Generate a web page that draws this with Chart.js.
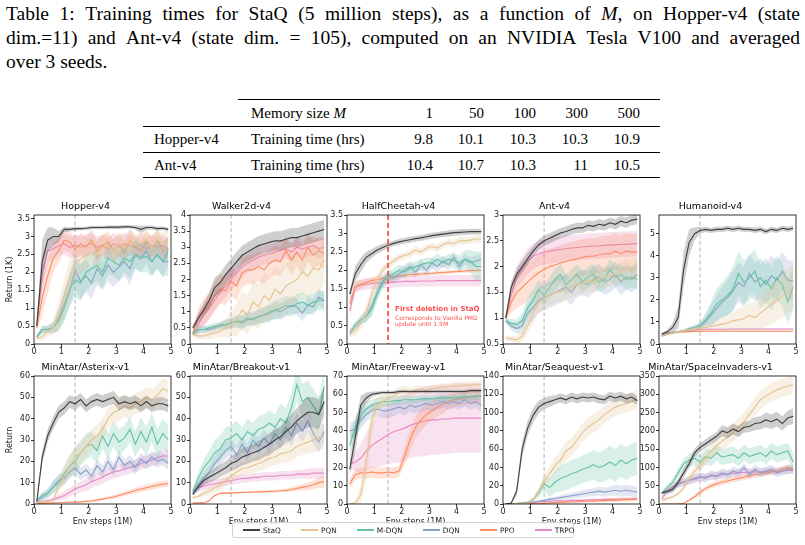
<!DOCTYPE html>
<html>
<head>
<meta charset="utf-8">
<script src="https://cdn.jsdelivr.net/npm/chart.js@4.4.1/dist/chart.umd.min.js"></script>
<style>
  body { margin: 0; width: 805px; height: 545px; background: #fff; position: relative; overflow: hidden;
         font-family: 'Liberation Serif', serif; color: #000; }
  .cap { position: absolute; left: 6px; width: 794px; font-size: 19.5px; line-height: 24px; white-space: nowrap; }
  .cap.just { display: flex; justify-content: space-between; }
  .rule { position: absolute; background: #000; }
  .cell { position: absolute; font-size: 15px; line-height: 18px; white-space: nowrap; }
  .num { text-align: right; width: 60px; }
  canvas { position: absolute; }
  #legend { position: absolute; left: 232px; top: 522px; width: 342px; height: 16px; box-sizing: border-box;
            border: 1px solid #d4d4d4; border-radius: 2px; background: rgba(255,255,255,0.85);
            display: flex; align-items: center; padding-left: 10px; gap: 20px; white-space: nowrap;
            font: 7.4px 'DejaVu Sans'; color: #222; z-index: 5; }
  .item { display: flex; align-items: center; flex: none; }
  .swatch { width: 17px; height: 1.2px; margin-right: 3px; flex: none; }
</style>
</head>
<body>
<div id="caption"></div>
<div id="table"></div>
<div id="grid"></div>
<div id="legend"></div>
<script>
// ---- table data ----
const memSizes = [1, 50, 100, 300, 500];
const hopperTimes = [9.8, 10.1, 10.3, 10.3, 10.9];
const antTimes = [10.4, 10.7, 10.3, 11, 10.5];

// ---- curves: mean and std, sampled at xSteps (millions of env steps) ----
const xSteps = [0.1,0.3,0.5,0.7,0.9,1.1,1.3,1.5,1.7,1.9,2.1,2.3,2.5,2.7,2.9,3.1,3.3,3.5,3.7,3.9,4.1,4.3,4.5,4.7,4.9];
const methods = ['StaQ', 'PQN', 'M-DQN', 'DQN', 'PPO', 'TRPO'];
const methodColors = ['#404040', '#e5c494', '#66c2a5', '#8da0cb', '#fc8d62', '#e78ac3'];
const deletionStep = 1.5;

const hopperStaq = [0.5,2.3,2.9,3.0,3.0, 3.2,3.2,3.22,3.22,3.23, 3.25,3.25,3.25,3.26,3.26, 3.26,3.27,3.27,3.25,3.2, 3.25,3.25,3.22,3.23,3.2];
const hopperStaqSd = [0.1,0.6,0.35,0.25,0.15, 0.08,0.06,0.05,0.05,0.05, 0.05,0.05,0.05,0.05,0.05, 0.05,0.05,0.05,0.06,0.1, 0.06,0.06,0.05,0.05,0.05];
const hopperPqn = [0.15,0.2,0.35,0.45,0.8, 1.3,1.8,2.3,2.35,2.5, 2.6,2.5,2.7,2.75,2.6, 2.8,2.7,2.9,2.75,2.8, 2.9,2.7,2.9,2.8,2.95];
const hopperPqnSd = [0.05,0.1,0.15,0.2,0.4, 0.5,0.5,0.45,0.4,0.4, 0.35,0.35,0.35,0.3,0.35, 0.3,0.35,0.3,0.3,0.3, 0.3,0.3,0.3,0.3,0.3];
const hopperMdqn = [0.2,0.4,0.4,0.45,0.65, 1.0,1.5,1.8,1.7,2.0, 2.1,2.2,2.0,2.4,2.3, 2.2,2.4,2.3,2.5,2.4, 2.45,2.3,2.5,2.3,2.6];
const hopperMdqnSd = [0.05,0.1,0.1,0.15,0.3, 0.4,0.45,0.5,0.5,0.5, 0.45,0.45,0.45,0.45,0.4, 0.45,0.4,0.45,0.4,0.4, 0.45,0.4,0.4,0.45,0.4];
const hopperDqn = [0.2,0.4,0.42,0.45,0.7, 1.1,1.5,2.05,1.75,1.9, 1.7,2.1,1.9,2.2,2.0, 2.15,2.3,2.1,2.5,2.4, 2.6,2.3,2.5,2.3,2.3];
const hopperDqnSd = [0.05,0.1,0.1,0.15,0.3, 0.4,0.45,0.5,0.5,0.45, 0.45,0.45,0.4,0.45,0.4, 0.4,0.4,0.45,0.4,0.4, 0.35,0.4,0.4,0.4,0.4];
const hopperPpo = [0.45,1.3,1.9,2.4,2.6, 2.9,2.85,2.65,2.8,2.7, 2.9,2.6,2.75,2.85,2.6, 2.8,2.55,2.9,2.7,2.6, 2.85,2.7,2.9,2.6,2.65];
const hopperPpoSd = [0.1,0.5,0.5,0.4,0.35, 0.3,0.3,0.3,0.3,0.3, 0.3,0.3,0.3,0.3,0.3, 0.3,0.3,0.3,0.3,0.3, 0.3,0.3,0.3,0.3,0.3];
const hopperTrpo = [0.5,2.0,2.6,2.65,2.75, 2.8,2.7,2.75,2.7,2.75, 2.8,2.7,2.75,2.65,2.8, 2.7,2.8,2.75,2.7,2.8, 2.65,2.75,2.7,2.75,2.65];
const hopperTrpoSd = [0.1,0.5,0.35,0.3,0.3, 0.3,0.3,0.3,0.3,0.3, 0.3,0.3,0.3,0.3,0.3, 0.3,0.3,0.3,0.3,0.3, 0.3,0.3,0.3,0.3,0.3];

const walkerStaq = [0.5,0.8,1.05,1.35,1.75, 1.9,2.15,2.35,2.55,2.75, 2.85,2.95,3.05,3.1,3.15, 3.2,3.2,3.25,3.3,3.3, 3.35,3.4,3.45,3.5,3.55];
const walkerStaqSd = [0.05,0.15,0.2,0.25,0.3, 0.3,0.3,0.3,0.3,0.3, 0.3,0.3,0.3,0.3,0.3, 0.3,0.3,0.3,0.3,0.3, 0.3,0.3,0.3,0.3,0.3];
const walkerPqn = [0.3,0.25,0.25,0.3,0.35, 0.4,0.5,0.6,0.75,1.05, 0.9,1.3,1.15,1.5,1.35, 1.7,1.55,1.8,1.9,2.0, 2.25,2.1,2.35,2.3,2.6];
const walkerPqnSd = [0.05,0.1,0.1,0.15,0.15, 0.2,0.3,0.4,0.5,0.6, 0.6,0.7,0.7,0.7,0.7, 0.7,0.7,0.7,0.7,0.7, 0.7,0.7,0.7,0.7,0.7];
const walkerMdqn = [0.3,0.45,0.45,0.5,0.55, 0.55,0.6,0.65,0.7,0.7, 0.8,0.75,0.85,0.9,1.0, 1.05,1.1,1.2,1.15,1.25, 1.3,1.2,1.3,1.35,1.35];
const walkerMdqnSd = [0.05,0.1,0.1,0.1,0.1, 0.1,0.15,0.15,0.2,0.2, 0.2,0.2,0.25,0.25,0.25, 0.3,0.3,0.3,0.3,0.3, 0.3,0.3,0.3,0.3,0.3];
const walkerDqn = [0.3,0.45,0.45,0.45,0.5, 0.6,0.6,0.65,0.7,0.65, 0.75,0.8,0.85,0.9,0.95, 1.05,1.0,1.1,1.2,1.15, 0.95,1.2,1.15,1.45,1.35];
const walkerDqnSd = [0.05,0.1,0.1,0.1,0.1, 0.1,0.15,0.15,0.15,0.2, 0.2,0.2,0.2,0.25,0.25, 0.25,0.25,0.25,0.25,0.25, 0.25,0.25,0.25,0.25,0.25];
const walkerPpo = [0.35,0.8,1.0,1.2,1.5, 1.7,1.65,1.95,1.8,2.2, 2.3,2.3,2.4,2.3,2.5, 2.6,2.55,2.9,2.6,2.85, 2.6,3.0,2.75,2.9,2.8];
const walkerPpoSd = [0.1,0.3,0.4,0.4,0.45, 0.45,0.45,0.45,0.45,0.45, 0.45,0.45,0.45,0.45,0.45, 0.45,0.45,0.45,0.45,0.45, 0.45,0.45,0.45,0.45,0.45];
const walkerTrpo = [0.3,0.6,0.9,1.1,1.35, 1.6,1.8,2.0,2.2,2.4, 2.5,2.6,2.7,2.75,2.8, 2.85,2.9,2.95,2.85,3.0, 2.95,3.0,3.05,2.95,3.0];
const walkerTrpoSd = [0.1,0.3,0.35,0.35,0.35, 0.35,0.35,0.35,0.35,0.35, 0.3,0.3,0.3,0.3,0.3, 0.3,0.3,0.3,0.3,0.3, 0.3,0.3,0.3,0.3,0.3];

const cheetahStaq = [1.35,1.9,2.15,2.35,2.45, 2.55,2.62,2.68,2.73,2.77, 2.8,2.83,2.86,2.88,2.91, 2.94,2.96,2.98,3.0,3.02, 3.03,3.04,3.05,3.05,3.05];
const cheetahStaqSd = [0.1,0.2,0.2,0.15,0.12, 0.1,0.1,0.08,0.08,0.08, 0.08,0.08,0.08,0.08,0.08, 0.08,0.08,0.08,0.08,0.08, 0.08,0.08,0.08,0.08,0.08];
const cheetahPqn = [0.3,0.35,0.55,0.85,1.35, 1.75,2.0,2.15,2.25,2.35, 2.4,2.45,2.55,2.5,2.6, 2.65,2.6,2.7,2.75,2.72, 2.8,2.8,2.82,2.85,2.85];
const cheetahPqnSd = [0.1,0.15,0.15,0.2,0.2, 0.15,0.12,0.1,0.1,0.1, 0.1,0.1,0.1,0.1,0.1, 0.1,0.1,0.1,0.1,0.1, 0.1,0.1,0.1,0.1,0.1];
const cheetahMdqn = [0.3,0.5,0.65,0.75,0.95, 1.35,1.65,1.85,1.9,2.0, 1.95,2.05,2.1,2.15,2.2, 2.2,2.3,2.2,2.3,2.25, 2.2,2.3,2.25,2.1,2.1];
const cheetahMdqnSd = [0.1,0.1,0.1,0.15,0.2, 0.2,0.15,0.15,0.15,0.15, 0.15,0.15,0.15,0.15,0.15, 0.15,0.15,0.15,0.15,0.2, 0.2,0.25,0.3,0.4,0.4];
const cheetahDqn = [0.3,0.5,0.65,0.75,1.0, 1.4,1.7,1.85,1.8,1.9, 2.0,2.1,1.95,2.15,2.0, 2.2,2.1,2.25,2.15,2.35, 2.1,2.3,2.2,2.25,2.3];
const cheetahDqnSd = [0.1,0.1,0.1,0.15,0.2, 0.2,0.15,0.15,0.15,0.15, 0.15,0.15,0.15,0.15,0.15, 0.15,0.15,0.15,0.15,0.15, 0.15,0.15,0.15,0.15,0.15];
const cheetahPpo = [1.1,1.55,1.62,1.67,1.72, 1.75,1.78,1.8,1.82,1.84, 1.86,1.88,1.89,1.9,1.91, 1.92,1.93,1.94,1.95,1.96, 1.97,1.98,1.99,2.0,2.0];
const cheetahPpoSd = [0.15,0.15,0.12,0.1,0.1, 0.1,0.08,0.08,0.08,0.06, 0.06,0.06,0.06,0.05,0.05, 0.05,0.05,0.05,0.05,0.05, 0.05,0.05,0.05,0.05,0.05];
const cheetahTrpo = [0.9,1.55,1.6,1.62,1.64, 1.65,1.66,1.67,1.68,1.69, 1.7,1.7,1.7,1.71,1.71, 1.71,1.72,1.72,1.72,1.72, 1.72,1.72,1.72,1.72,1.72];
const cheetahTrpoSd = [0.2,0.15,0.15,0.15,0.15, 0.15,0.15,0.15,0.15,0.15, 0.15,0.15,0.15,0.15,0.15, 0.15,0.15,0.15,0.15,0.15, 0.15,0.15,0.15,0.15,0.15];

const antStaq = [1.0,1.6,1.85,2.0,2.15, 2.3,2.42,2.5,2.55,2.6, 2.65,2.68,2.72,2.75,2.75, 2.8,2.78,2.82,2.8,2.85, 2.82,2.88,2.85,2.9,2.92];
const antStaqSd = [0.03,0.12,0.12,0.12,0.12, 0.1,0.1,0.1,0.1,0.1, 0.1,0.1,0.1,0.1,0.1, 0.1,0.1,0.1,0.1,0.1, 0.1,0.1,0.1,0.1,0.1];
const antPqn = [0.62,0.6,0.58,0.65,0.85, 1.1,1.3,1.38,1.45,1.5, 1.52,1.55,1.6,1.65,1.68, 1.72,1.7,1.78,1.8,1.82, 1.85,1.9,1.95,1.9,2.0];
const antPqnSd = [0.05,0.05,0.08,0.1,0.15, 0.2,0.2,0.2,0.2,0.2, 0.2,0.2,0.2,0.2,0.2, 0.2,0.2,0.2,0.2,0.2, 0.2,0.2,0.2,0.2,0.2];
const antMdqn = [0.95,0.9,0.88,0.95,1.2, 1.35,1.55,1.45,1.6,1.75, 1.85,1.65,1.75,1.85,1.7, 1.8,1.85,1.7,1.75,1.95, 1.8,1.85,1.75,1.8,1.75];
const antMdqnSd = [0.05,0.08,0.1,0.15,0.2, 0.2,0.2,0.2,0.2,0.2, 0.2,0.2,0.2,0.2,0.2, 0.2,0.2,0.2,0.2,0.2, 0.2,0.2,0.2,0.2,0.2];
const antDqn = [0.95,0.85,0.8,0.85,1.1, 1.2,1.35,1.4,1.45,1.5, 1.55,1.6,1.5,1.65,1.7, 1.65,1.75,1.8,1.7,1.75, 1.85,1.7,1.8,1.75,1.85];
const antDqnSd = [0.05,0.08,0.1,0.15,0.2, 0.25,0.25,0.25,0.25,0.25, 0.25,0.25,0.25,0.25,0.25, 0.25,0.25,0.25,0.25,0.25, 0.25,0.25,0.25,0.25,0.25];
const antPpo = [1.0,1.3,1.5,1.6,1.7, 1.8,1.88,1.95,2.0,2.03, 2.07,2.1,2.13,2.15,2.18, 2.2,2.2,2.23,2.25,2.25, 2.3,2.25,2.3,2.28,2.28];
const antPpoSd = [0.05,0.2,0.3,0.35,0.35, 0.35,0.35,0.35,0.35,0.35, 0.35,0.35,0.35,0.35,0.35, 0.35,0.35,0.35,0.35,0.35, 0.35,0.35,0.35,0.35,0.35];
const antTrpo = [1.0,1.45,1.8,1.95,2.1, 2.2,2.25,2.28,2.3,2.32, 2.33,2.35,2.36,2.37,2.38, 2.39,2.4,2.4,2.41,2.42, 2.42,2.43,2.43,2.44,2.45];
const antTrpoSd = [0.05,0.15,0.2,0.25,0.25, 0.25,0.25,0.25,0.25,0.25, 0.25,0.25,0.25,0.25,0.25, 0.25,0.25,0.25,0.25,0.25, 0.25,0.25,0.25,0.25,0.25];

const humanoidStaq = [0.45,0.55,0.75,1.2,3.4, 4.6,5.0,5.15,5.2,5.15, 5.2,5.2,5.25,5.2,5.25, 5.2,5.2,5.15,5.2,5.1, 5.2,5.15,5.25,5.2,5.25];
const humanoidStaqSd = [0.05,0.1,0.2,0.5,0.8, 0.6,0.3,0.15,0.12,0.12, 0.12,0.12,0.12,0.12,0.12, 0.12,0.12,0.12,0.12,0.12, 0.12,0.12,0.12,0.12,0.12];
const humanoidPqn = [0.4,0.45,0.5,0.55,0.6, 0.65,0.7,0.72,0.75,0.8, 0.85,0.9,0.95,1.05,1.1, 1.15,1.3,1.2,1.4,1.6, 1.8,1.95,2.2,2.4,2.6];
const humanoidPqnSd = [0.05,0.05,0.05,0.05,0.05, 0.05,0.1,0.1,0.15,0.2, 0.25,0.3,0.35,0.4,0.5, 0.55,0.6,0.65,0.7,0.8, 0.9,0.9,1.0,1.0,1.0];
const humanoidMdqn = [0.4,0.45,0.5,0.55,0.6, 0.7,0.75,0.85,1.1,1.4, 1.8,2.0,2.2,2.5,3.2, 2.8,3.0,3.3,2.6,2.9, 2.5,3.0,2.7,1.9,2.6];
const humanoidMdqnSd = [0.05,0.05,0.05,0.05,0.05, 0.1,0.1,0.15,0.3,0.5, 0.7,0.8,0.9,1.0,1.0, 1.0,1.0,1.0,1.0,1.0, 1.0,1.0,1.0,1.0,1.0];
const humanoidDqn = [0.35,0.45,0.5,0.55,0.6, 0.65,0.75,0.8,1.0,1.3, 1.6,1.9,2.1,2.4,2.8, 2.6,3.2,2.8,3.0,2.7, 3.1,2.9,3.3,2.9,2.85];
const humanoidDqnSd = [0.05,0.05,0.05,0.05,0.05, 0.1,0.1,0.15,0.3,0.5, 0.6,0.7,0.8,0.9,0.9, 0.9,0.9,0.9,0.9,0.9, 0.9,0.9,0.9,0.9,0.9];
const humanoidPpo = [0.45,0.5,0.52,0.54,0.55, 0.56,0.57,0.57,0.58,0.58, 0.58,0.58,0.58,0.58,0.58, 0.58,0.58,0.58,0.58,0.58, 0.58,0.58,0.58,0.58,0.58];
const humanoidPpoSd = [0.03,0.03,0.03,0.03,0.03, 0.03,0.03,0.03,0.03,0.03, 0.03,0.03,0.03,0.03,0.03, 0.03,0.03,0.03,0.03,0.03, 0.03,0.03,0.03,0.03,0.03];
const humanoidTrpo = [0.45,0.5,0.53,0.56,0.6, 0.62,0.64,0.65,0.66,0.66, 0.67,0.67,0.67,0.68,0.68, 0.68,0.68,0.68,0.68,0.68, 0.68,0.68,0.68,0.68,0.68];
const humanoidTrpoSd = [0.03,0.03,0.03,0.03,0.03, 0.03,0.03,0.03,0.03,0.03, 0.03,0.03,0.03,0.03,0.03, 0.03,0.03,0.03,0.03,0.03, 0.03,0.03,0.03,0.03,0.03];

const asterixStaq = [1,22,32,38,43, 45,48,47,49,46, 48,49,48,49,50, 47,48,47,48,46, 48,46,47,47,46];
const asterixStaqSd = [0.5,3,3,3,3, 3,3,3,3,3, 3,3,3,3,3, 3,3,3,3,3, 3,3,3,3,3];
const asterixPqn = [1,1,1,2,8, 13,18,22,24,27, 30,32,35,40,43, 44,46,45,47,48, 50,49,51,54,53];
const asterixPqnSd = [0.5,0.5,0.5,1,3, 4,5,5,5,5, 5,5,5,5,5, 5,5,5,5,5, 5,5,5,5,5];
const asterixMdqn = [2,4,5,8,10, 14,18,20,24,27, 28,25,32,27,33, 29,31,35,28,34, 29,36,28,33,30];
const asterixMdqnSd = [1,1.5,2,3,3, 4,5,6,6,6, 6,6,6,6,6, 6,6,6,6,7, 7,7,7,7,7];
const asterixDqn = [1,3,5,8,11, 12,15,17,14,16, 13,18,15,20,16, 22,18,20,17,21, 19,22,20,21,19];
const asterixDqnSd = [1,2,2,3,3, 3,3,3,3,3, 3,3,3,3,3, 3,3,3,3,3, 3,3,3,3,3];
const asterixPpo = [0.2,0.3,0.4,0.5,0.6, 0.7,0.8,0.9,1,1.2, 1.4,1.8,2.3,2.8,3.3, 4,4.8,5.5,6.3,7, 7.6,8.2,8.8,9.3,9.5];
const asterixPpoSd = [0.2,0.2,0.2,0.3,0.3, 0.3,0.3,0.4,0.4,0.5, 0.5,0.6,0.7,0.8,0.9, 1,1,1.2,1.3,1.4, 1.5,1.5,1.5,1.5,1.5];
const asterixTrpo = [0.5,1,1.5,2,3, 4,5.5,7,8,9, 10.5,11.5,12.5,14,15, 15.5,16.5,17,18,19, 20,20.5,21.5,22.5,22.5];
const asterixTrpoSd = [0.5,1,1,1,1.5, 2,2,2.5,2.5,3, 3,3,3,3,3, 3,3,3,3,3, 3,3,3,3,3];

const breakoutStaq = [4.5,8,11,12.5,14, 15.5,17,19,20,22, 23,24,25,26.5,28, 30,31.5,34,36,39, 41,43,43,42,48];
const breakoutStaqSd = [1,2,2,2.5,3, 3,3,3.5,3.5,4, 4,4,4.5,4.5,5, 5,5,5.5,6,6, 6.5,7,7,7,7];
const breakoutPqn = [3,3.5,5,6,7.5, 9,11,13,15,16.5, 17,18,19,20,21.5, 22,23.5,24,25,27, 28,29,30,31,32];
const breakoutPqnSd = [0.5,1,1.5,2,2, 2.5,2.5,3,3,3, 3,3.5,3.5,4,4, 4,4.5,4.5,5,5, 5,5.5,6,6,6];
const breakoutMdqn = [6,12,17,20,24, 26,30,31,33,30, 34,32,35,36,38, 36,40,38,45,56, 48,50,46,42,55];
const breakoutMdqnSd = [1,3,4,5,6, 6,6,6,6,6, 6,6,6,6,6, 6,7,7,7,8, 8,8,8,8,8];
const breakoutDqn = [5,9,12,15,19, 22,25,27,23,28, 24,30,27,31,28, 33,30,36,32,38, 34,39,33,29,34];
const breakoutDqnSd = [1,2,3,3,4, 4,4,4,4,4, 4,4,4,4,4, 4,4,5,5,5, 5,5,5,5,5];
const breakoutPpo = [0.5,0.5,0.5,1.5,4, 5,5.1,5.2,5.3,5.4, 5.5,5.6,5.7,5.8,5.9, 6,6.2,6.4,6.8,7.3, 7.8,8.3,9,10,10.5];
const breakoutPpoSd = [0.3,0.3,0.3,0.5,0.5, 0.5,0.5,0.5,0.5,0.5, 0.5,0.5,0.5,0.5,0.5, 0.6,0.7,0.8,1,1.2, 1.5,1.8,2,2.5,3];
const breakoutTrpo = [6,7.5,8.5,9,9.5, 10,10.5,11,11.5,12, 12,12.5,12.5,13,13, 13,13.5,13.5,13.5,14, 14,14,14.5,14.5,14.5];
const breakoutTrpoSd = [1,1.5,2,2,2, 2,2,2,2,2, 2,2,2,2,2, 2,2,2,2,2, 2,2.5,2.5,2.5,2.5];

const freewayStaq = [19,36,54,58,60, 60.5,61,61,61,61.5, 61.5,61.5,61.5,61.5,61.5, 61.5,61.5,61.5,61.5,61.5, 61.5,61.5,62,62,62];
const freewayStaqSd = [3,8,5,3,1.5, 1,1,1,1,1, 1,1,1,1,1, 1,1,1,1,1, 1,1,1,1,1];
const freewayPqn = [0,0.5,5,22,45, 54,56,58,59,61, 62,61,62.5,63,62, 63,63.5,64,64,64.5, 64.5,65,65,65.5,65.5];
const freewayPqnSd = [0.5,1,5,10,8, 5,4,3,3,3, 3,2.5,2.5,2,2, 2,2,2,2,2, 2,2,2,2,2];
const freewayMdqn = [32,42,48,52,54, 55,56,56,56.5,56.5, 57,57,57,57.5,57.5, 57.5,58,58,58,58, 58.5,58.5,58.5,59,59];
const freewayMdqnSd = [6,6,5,4,3, 3,3,2.5,2.5,2.5, 2.5,2,2,2,2, 2,2,2,2,2, 2,2,2,2,2];
const freewayDqn = [40,41,46,49,51, 52,51,51,52,53, 52,54,53,54,55, 54,55,56,55,56, 55,57,55,56,54];
const freewayDqnSd = [4,5,5,4,4, 4,4,4,4,3.5, 3.5,3.5,3.5,3.5,3.5, 3.5,3.5,3.5,3.5,3.5, 3.5,3.5,3.5,3.5,3.5];
const freewayPpo = [11,16,17,17,17.5, 17,17,17.5,17,18, 26,35,42,46,49, 51,53,54.5,56,57, 57.5,58,58.5,59,59];
const freewayPpoSd = [3,3,3,3,3, 3,3,3,3,3, 5,6,6,6,6, 5,5,5,4,4, 4,4,4,4,4];
const freewayTrpo = [22,23,25,29,32, 34,36,38,39.5,40.5, 41.5,43,44,45,45.5, 46,46,46.5,46.5,47, 47,47,47,47,47];
const freewayTrpoSd = [3,5,8,10,12, 14,15,16,17,18, 18,18,18,19,19, 19,19,19,19,19, 19,19,19,19,19];

const seaquestStaq = [0,1,14,60,83, 97,106,110,112,114, 116,114,117,115,117, 116,117,115,114,118, 116,118,115,117,113];
const seaquestStaqSd = [0,0.5,5,8,8, 8,7,6,6,5, 5,5,5,5,5, 5,5,5,5,5, 5,5,5,5,5];
const seaquestPqn = [0,0,0,0.5,1, 5,14,25,33,42, 48,58,62,70,78, 84,88,92,98,102, 106,108,110,112,115];
const seaquestPqnSd = [0,0,0,0.3,0.5, 2,4,6,8,9, 10,10,10,10,10, 10,10,10,10,10, 10,10,10,10,10];
const seaquestMdqn = [0,0,0.5,1,2, 5,12,22,18,24, 28,30,33,35,38, 40,43,40,42,46, 42,48,44,48,50];
const seaquestMdqnSd = [0,0,0.2,0.5,1, 2,5,8,10,12, 14,15,15,15,15, 16,16,17,17,18, 18,18,18,18,18];
const seaquestDqn = [0,0,0.5,1,1.5, 2,3,4,5,6, 7,8,9,10,11, 12,13,14,13,14, 15,14,15,14,13];
const seaquestDqnSd = [0,0,0.2,0.5,0.5, 1,1,1.5,2,2, 2.5,3,3,3.5,4, 4,4.5,5,5,5, 6,6,6,6,6];
const seaquestPpo = [0,0,0,0,0.5, 0.5,0.8,1,1.2,1.5, 1.7,2,2.2,2.5,2.7, 3,3.2,3.5,3.7,4, 4.2,4.5,4.8,5,5];
const seaquestPpoSd = [0,0,0,0,0.3, 0.3,0.5,0.5,0.5,0.8, 0.8,1,1,1,1.2, 1.2,1.5,1.5,1.5,1.5, 2,2,2,2,2];
const seaquestTrpo = [0,0,0.5,1,1.5, 2,2.5,3,3,3.5, 3.5,3.5,4,4,4, 4.5,4.5,4.5,5,5, 5,5.5,5.5,5.5,6];
const seaquestTrpoSd = [0,0,0.2,0.3,0.5, 0.5,0.8,1,1,1, 1,1,1,1.2,1.2, 1.2,1.5,1.5,1.5,1.5, 1.5,1.5,1.5,1.5,1.5];

const invadersStaq = [30,35,40,60,85, 110,140,155,165,175, 185,200,195,205,198, 210,212,220,222,230, 225,232,220,235,240];
const invadersStaqSd = [3,5,8,10,12, 12,12,12,12,12, 12,15,15,15,15, 15,15,18,18,20, 20,20,20,20,22];
const invadersPqn = [10,15,20,28,45, 70,90,105,125,145, 160,172,182,195,210, 225,245,265,285,295, 305,312,318,322,326];
const invadersPqnSd = [5,5,5,5,8, 10,12,15,18,20, 22,25,25,25,25, 25,25,25,25,25, 25,25,25,25,25];
const invadersMdqn = [30,45,60,85,110, 120,125,115,130,125, 140,128,132,135,125, 140,130,135,140,130, 145,135,140,145,115];
const invadersMdqnSd = [5,8,10,12,15, 18,20,20,22,22, 22,22,22,22,22, 22,22,22,22,22, 22,22,22,22,25];
const invadersDqn = [30,32,40,55,60, 65,70,75,70,80, 75,85,80,90,85, 100,80,95,85,90, 95,85,90,95,95];
const invadersDqnSd = [3,5,8,10,10, 12,12,12,12,12, 12,12,12,12,12, 12,12,12,12,12, 12,12,12,12,12];
const invadersPpo = [0,0,0,0,2, 10,20,32,42,50, 55,60,63,67,70, 73,77,80,82,85, 88,90,95,100,95];
const invadersPpoSd = [0.5,0.5,0.5,0.5,1, 3,5,6,7,8, 8,8,8,8,8, 8,8,8,8,8, 8,8,8,8,8];
const invadersTrpo = [15,35,48,55,60, 64,68,72,74,76, 78,80,82,84,85, 86,87,88,88,89, 90,90,91,92,92];
const invadersTrpoSd = [8,10,10,10,10, 10,10,10,10,10, 10,10,10,10,10, 10,10,10,10,10, 10,10,10,10,10];

const panels = [
  { title: 'Hopper-v4', yMin: 0, yMax: 3.6, yStep: 0.5, yLabel: 'Return (1K)',
    means: [hopperStaq, hopperPqn, hopperMdqn, hopperDqn, hopperPpo, hopperTrpo],
    sds: [hopperStaqSd, hopperPqnSd, hopperMdqnSd, hopperDqnSd, hopperPpoSd, hopperTrpoSd] },
  { title: 'Walker2d-v4', yMin: 0, yMax: 4, yStep: 0.5,
    means: [walkerStaq, walkerPqn, walkerMdqn, walkerDqn, walkerPpo, walkerTrpo],
    sds: [walkerStaqSd, walkerPqnSd, walkerMdqnSd, walkerDqnSd, walkerPpoSd, walkerTrpoSd] },
  { title: 'HalfCheetah-v4', yMin: 0, yMax: 3.5, yStep: 0.5, note: true,
    means: [cheetahStaq, cheetahPqn, cheetahMdqn, cheetahDqn, cheetahPpo, cheetahTrpo],
    sds: [cheetahStaqSd, cheetahPqnSd, cheetahMdqnSd, cheetahDqnSd, cheetahPpoSd, cheetahTrpoSd] },
  { title: 'Ant-v4', yMin: 0.5, yMax: 3, yStep: 0.5,
    means: [antStaq, antPqn, antMdqn, antDqn, antPpo, antTrpo],
    sds: [antStaqSd, antPqnSd, antMdqnSd, antDqnSd, antPpoSd, antTrpoSd] },
  { title: 'Humanoid-v4', yMin: 0, yMax: 5.85, yStep: 1,
    means: [humanoidStaq, humanoidPqn, humanoidMdqn, humanoidDqn, humanoidPpo, humanoidTrpo],
    sds: [humanoidStaqSd, humanoidPqnSd, humanoidMdqnSd, humanoidDqnSd, humanoidPpoSd, humanoidTrpoSd] },
  { title: 'MinAtar/Asterix-v1', yMin: 0, yMax: 60, yStep: 10, yLabel: 'Return',
    means: [asterixStaq, asterixPqn, asterixMdqn, asterixDqn, asterixPpo, asterixTrpo],
    sds: [asterixStaqSd, asterixPqnSd, asterixMdqnSd, asterixDqnSd, asterixPpoSd, asterixTrpoSd] },
  { title: 'MinAtar/Breakout-v1', yMin: 0, yMax: 60, yStep: 10,
    means: [breakoutStaq, breakoutPqn, breakoutMdqn, breakoutDqn, breakoutPpo, breakoutTrpo],
    sds: [breakoutStaqSd, breakoutPqnSd, breakoutMdqnSd, breakoutDqnSd, breakoutPpoSd, breakoutTrpoSd] },
  { title: 'MinAtar/Freeway-v1', yMin: 0, yMax: 70, yStep: 10,
    means: [freewayStaq, freewayPqn, freewayMdqn, freewayDqn, freewayPpo, freewayTrpo],
    sds: [freewayStaqSd, freewayPqnSd, freewayMdqnSd, freewayDqnSd, freewayPpoSd, freewayTrpoSd] },
  { title: 'MinAtar/Seaquest-v1', yMin: 0, yMax: 140, yStep: 20,
    means: [seaquestStaq, seaquestPqn, seaquestMdqn, seaquestDqn, seaquestPpo, seaquestTrpo],
    sds: [seaquestStaqSd, seaquestPqnSd, seaquestMdqnSd, seaquestDqnSd, seaquestPpoSd, seaquestTrpoSd] },
  { title: 'MinAtar/SpaceInvaders-v1', yMin: 0, yMax: 350, yStep: 50,
    means: [invadersStaq, invadersPqn, invadersMdqn, invadersDqn, invadersPpo, invadersTrpo],
    sds: [invadersStaqSd, invadersPqnSd, invadersMdqnSd, invadersDqnSd, invadersPpoSd, invadersTrpoSd] }
];

// ---- layout ----
const plotLefts = [34, 190, 347, 503, 659];
const rowTops = [193, 354];
const rowHeights = [167, 176];
const xAxisHeights = [16, 26];
const yAxisWidth = 34;
const canvasWidth = 179;

// ---- caption ----
const captionLines = [
  'Table 1: Training times for StaQ (5 million steps), as a function of <i>M</i>, on Hopper-v4 (state',
  'dim.=11) and Ant-v4 (state dim. = 105), computed on an NVIDIA Tesla V100 and averaged',
  'over 3 seeds.'
];
const cap = document.getElementById('caption');
captionLines.forEach((line, i) => {
  const div = document.createElement('div');
  div.className = 'cap' + (i < 2 ? ' just' : '');
  div.style.top = (2 + i * 24) + 'px';
  if (i < 2) {
    div.innerHTML = line.split(' ').map(w => '<span>' + w + '</span>').join('');
  } else {
    div.innerHTML = line;
  }
  cap.appendChild(div);
});

// ---- table ----
const tbl = document.getElementById('table');
function addRule(x1, x2, y, h) {
  const r = document.createElement('div');
  r.className = 'rule';
  r.style.cssText = 'left:' + x1 + 'px;width:' + (x2 - x1) + 'px;top:' + y + 'px;height:' + h + 'px';
  tbl.appendChild(r);
}
function addCell(html, x, y, isNum) {
  const c = document.createElement('div');
  c.className = 'cell' + (isNum ? ' num' : '');
  c.style.left = (isNum ? x - 60 : x) + 'px';
  c.style.top = (y - 9) + 'px';
  c.innerHTML = html;
  tbl.appendChild(c);
}
const numRight = [433, 484, 536, 588, 640];
addRule(238, 660, 98.5, 1.3);
addRule(143, 660, 125.5, 0.8);
addRule(143, 660, 151.5, 0.8);
addRule(143, 660, 177, 1.3);
addCell('Memory size <i>M</i>', 251, 113);
memSizes.forEach((m, i) => addCell(String(m), numRight[i], 113, true));
addCell('Hopper-v4', 154, 139);
addCell('Training time (hrs)', 251, 139);
hopperTimes.forEach((t, i) => addCell(String(t), numRight[i], 139, true));
addCell('Ant-v4', 154, 165);
addCell('Training time (hrs)', 251, 165);
antTimes.forEach((t, i) => addCell(String(t), numRight[i], 165, true));

// ---- charts ----
Chart.defaults.font.family = 'DejaVu Sans';

function fade(hex, a) {
  const n = parseInt(hex.slice(1), 16);
  return 'rgba(' + (n >> 16) + ',' + ((n >> 8) & 255) + ',' + (n & 255) + ',' + a + ')';
}

const framePlugin = {
  id: 'frame',
  beforeDatasetsDraw(chart, args, opts) {
    if (!opts.front) drawMark(chart, opts);
  },
  afterDatasetsDraw(chart, args, opts) {
    if (opts.front) drawMark(chart, opts);
    const ctx = chart.ctx, a = chart.chartArea;
    ctx.save();
    ctx.strokeStyle = '#000';
    ctx.lineWidth = 0.8;
    ctx.strokeRect(a.left, a.top, a.right - a.left, a.bottom - a.top);
    ctx.restore();
  }
};

function drawMark(chart, opts) {
  const ctx = chart.ctx, a = chart.chartArea;
  const px = chart.scales.x.getPixelForValue(deletionStep);
  ctx.save();
  ctx.strokeStyle = opts.color;
  ctx.lineWidth = opts.width;
  ctx.setLineDash(opts.dash);
  ctx.beginPath();
  ctx.moveTo(px, a.top);
  ctx.lineTo(px, a.bottom);
  ctx.stroke();
  ctx.setLineDash([]);
  if (opts.note) {
    ctx.beginPath();
    ctx.rect(a.left, a.top, a.right - a.left, a.bottom - a.top);
    ctx.clip();
    const y = chart.scales.y;
    ctx.fillStyle = opts.color;
    ctx.textBaseline = 'middle';
    ctx.font = 'bold 7px DejaVu Sans';
    ctx.fillText('First deletion in StaQ', px + 7, y.getPixelForValue(0.95));
    ctx.font = '6px DejaVu Sans';
    ctx.fillText('Corresponds to Vanilla PMD', px + 7, y.getPixelForValue(0.7));
    ctx.fillText('update until 1.5M', px + 7, y.getPixelForValue(0.53));
  }
  ctx.restore();
}

const tickFont = { size: 8, family: 'DejaVu Sans' };

panels.forEach((def, i) => {
  const col = i % 5, row = Math.floor(i / 5);
  const canvas = document.createElement('canvas');
  canvas.width = canvasWidth;
  canvas.height = rowHeights[row];
  canvas.style.left = (plotLefts[col] - yAxisWidth) + 'px';
  canvas.style.top = rowTops[row] + 'px';
  document.getElementById('grid').appendChild(canvas);

  const datasets = [];
  methods.forEach((m, k) => {
    const mean = def.means[k], sd = def.sds[k];
    const pts = arr => arr.map((v, j) => ({ x: xSteps[j], y: v }));
    datasets.push({ label: m, data: pts(mean), borderColor: methodColors[k], borderWidth: 1.15,
                    pointRadius: 0, fill: false, tension: 0 });
    datasets.push({ label: m + ' low', data: pts(mean.map((v, j) => v - sd[j])), borderColor: 'transparent',
                    borderWidth: 0, pointRadius: 0, fill: false });
    datasets.push({ label: m + ' high', data: pts(mean.map((v, j) => v + sd[j])), borderColor: 'transparent',
                    borderWidth: 0, pointRadius: 0, fill: '-1', backgroundColor: fade(methodColors[k], 0.25) });
  });

  const gridOpts = { drawOnChartArea: false, drawTicks: true, tickLength: 3, color: '#000', lineWidth: 0.8 };

  new Chart(canvas.getContext('2d'), {
    type: 'line',
    data: { datasets },
    plugins: [framePlugin],
    options: {
      responsive: false,
      animation: false,
      events: [],
      layout: { padding: { left: 0, right: 8, top: 0, bottom: 0 } },
      plugins: {
        legend: { display: false },
        tooltip: { enabled: false },
        title: { display: true, text: def.title, color: '#000',
                 font: { size: 9.5, family: 'DejaVu Sans', weight: 'normal' },
                 padding: { top: 8, bottom: 2.6 } },
        frame: def.note
          ? { front: true, color: '#ff4f4f', width: 1.8, dash: [5, 3], note: true }
          : { front: false, color: '#b4b4b4', width: 1, dash: [4, 2.5], note: false }
      },
      scales: {
        x: {
          type: 'linear', min: 0, max: 5,
          afterFit: s => { s.height = xAxisHeights[row]; },
          ticks: { stepSize: 1, includeBounds: false, maxRotation: 0, padding: 0, color: '#222', font: tickFont },
          grid: gridOpts,
          border: { display: false },
          title: { display: row === 1, text: 'Env steps (1M)', color: '#222', font: tickFont,
                   padding: { top: 0, bottom: 3 } }
        },
        y: {
          min: def.yMin, max: def.yMax,
          afterFit: s => { s.width = yAxisWidth; },
          ticks: { stepSize: def.yStep, includeBounds: false, padding: 1, color: '#222', font: tickFont,
                   callback: v => String(+v.toFixed(2)) },
          grid: gridOpts,
          border: { display: false },
          title: { display: !!def.yLabel, text: def.yLabel || '', color: '#222', font: tickFont,
                   padding: { top: 5, bottom: 0 } }
        }
      }
    }
  });
});

// ---- legend ----
const legend = document.getElementById('legend');
methods.forEach((m, k) => {
  const item = document.createElement('div');
  item.className = 'item';
  item.innerHTML = '<span class="swatch" style="background:' + methodColors[k] + '"></span><span>' + m + '</span>';
  legend.appendChild(item);
});
</script>
</body>
</html>
